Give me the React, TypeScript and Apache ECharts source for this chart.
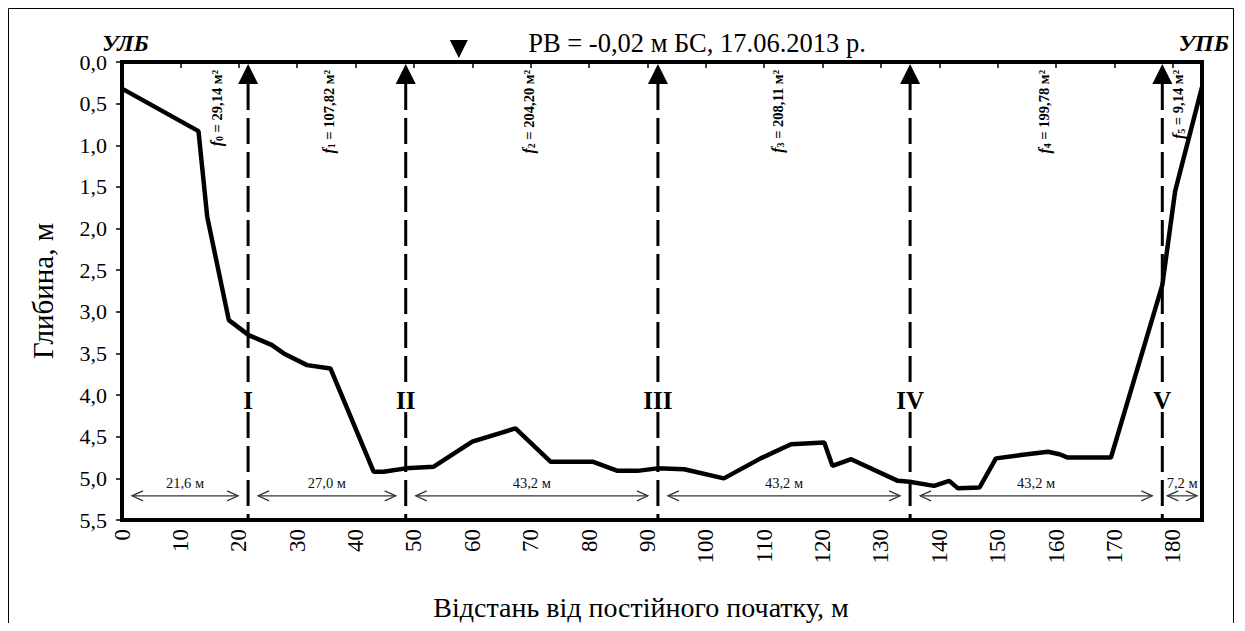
import React, { useEffect, useRef } from 'react';
import * as echarts from 'echarts';

// Cross-section profile: distance from the permanent origin (m) and depth (m)
const profileX = [0, 13.1, 14.6, 18.3, 21.7, 23.7, 25.7, 27.7, 31.7, 35.7, 43.1, 44.8, 48.6, 53.4, 60.0, 67.4, 73.4, 80.6, 84.9, 88.3, 91.7, 96.3, 103.1, 109.4, 114.6, 120.3, 121.7, 124.9, 132.9, 134.9, 139.1, 141.7, 143.2, 146.9, 149.7, 154.0, 158.6, 160.6, 162.0, 169.4, 178.2, 180.4, 185];
const profileDepth = [0.32, 0.83, 1.86, 3.10, 3.28, 3.34, 3.40, 3.50, 3.64, 3.68, 4.92, 4.92, 4.88, 4.86, 4.56, 4.40, 4.80, 4.80, 4.91, 4.91, 4.88, 4.89, 5.00, 4.76, 4.59, 4.57, 4.85, 4.77, 5.03, 5.04, 5.09, 5.03, 5.12, 5.11, 4.76, 4.72, 4.68, 4.71, 4.75, 4.75, 2.68, 1.55, 0.30];

// Velocity verticals
const sectionX = [21.6, 48.6, 91.8, 135.0, 178.2];
const sectionNames = ['I', 'II', 'III', 'IV', 'V'];

// Distances between verticals
const spanStart = [0, 21.6, 48.6, 91.8, 135.0, 178.2];
const spanEnd = [21.6, 48.6, 91.8, 135.0, 178.2, 185];
const spanLabels = ['21,6 м', '27,0 м', '43,2 м', '43,2 м', '43,2 м', '7,2 м'];

// Partial areas of the cross-section
const areaX = [16.2, 35.4, 69.7, 112.3, 158.0, 180.9];
const areaIndex = ['0', '1', '2', '3', '4', '5'];
const areaValues = ['29,14', '107,82', '204,20', '208,11', '199,78', '9,14'];

const xTicks = [0, 10, 20, 30, 40, 50, 60, 70, 80, 90, 100, 110, 120, 130, 140, 150, 160, 170, 180];
const waterMarkX = 57.7;
const numeralDepth = 4.06;
const dimDepth = 5.21;

const titleText = 'РВ = -0,02 м БС, 17.06.2013 р.';
const leftBank = 'УЛБ';
const rightBank = 'УПБ';
const xName = 'Відстань від постійного початку, м';
const yName = 'Глибина, м';

const SERIF = 'Liberation Serif';

function buildOption(): any {
  const profile = profileX.map((x, i) => [x, profileDepth[i]]);

  return {
    animation: false,
    backgroundColor: '#fff',
    grid: {
      left: 114,
      top: 54,
      width: 1080,
      height: 458,
      show: true,
      borderColor: '#000',
      borderWidth: 4,
      backgroundColor: 'transparent',
    },
    xAxis: {
      type: 'value',
      min: 0,
      max: 185,
      interval: 10,
      axisLine: { show: false },
      splitLine: { show: false },
      axisTick: {
        show: true,
        inside: false,
        length: 6,
        lineStyle: { color: '#000', width: 1.5 },
        customValues: xTicks,
      },
      axisLabel: {
        rotate: 90,
        margin: 9,
        color: '#000',
        fontFamily: SERIF,
        fontSize: 23,
        customValues: xTicks,
      },
    },
    yAxis: {
      type: 'value',
      inverse: true,
      min: 0,
      max: 5.5,
      interval: 0.5,
      axisLine: { show: false },
      splitLine: { show: false },
      axisTick: { show: true, inside: false, length: 6, lineStyle: { color: '#000', width: 1.5 } },
      axisLabel: {
        margin: 15,
        color: '#000',
        fontFamily: SERIF,
        fontSize: 22,
        formatter: (v: number) => v.toFixed(1).replace('.', ','),
      },
    },
    graphic: [
      {
        type: 'rect',
        silent: true,
        shape: { x: 0.5, y: 0.5, width: 1225, height: 700 },
        style: { fill: 'none', stroke: '#000', lineWidth: 1 },
      },
      {
        type: 'text',
        x: 689,
        y: 35,
        style: { text: titleText, fill: '#000', fontSize: 26.5, fontFamily: SERIF, align: 'center', verticalAlign: 'middle' },
      },
      {
        type: 'text',
        x: 94,
        y: 35,
        style: { text: leftBank, fill: '#000', fontStyle: 'italic', fontWeight: 'bold', fontSize: 24, fontFamily: SERIF, align: 'left', verticalAlign: 'middle' },
      },
      {
        type: 'text',
        x: 1221,
        y: 35,
        style: { text: rightBank, fill: '#000', fontStyle: 'italic', fontWeight: 'bold', fontSize: 24, fontFamily: SERIF, align: 'right', verticalAlign: 'middle' },
      },
      {
        type: 'text',
        x: 633,
        y: 599,
        style: { text: xName, fill: '#000', fontSize: 28, fontFamily: SERIF, align: 'center', verticalAlign: 'middle' },
      },
      {
        type: 'text',
        x: 35,
        y: 283,
        rotation: Math.PI / 2,
        style: { text: yName, fill: '#000', fontSize: 29, fontFamily: SERIF, align: 'center', verticalAlign: 'middle' },
      },
    ],
    series: [
      // velocity verticals with arrows and numerals
      {
        type: 'custom',
        z: 3,
        data: sectionX.map((x, i) => [x, i]),
        renderItem: (params: any, api: any) => {
          const x = api.value(0);
          const idx = api.value(1);
          const top = api.coord([x, 0]);
          const bottom = api.coord([x, 5.5]);
          const mid = api.coord([x, numeralDepth]);
          const px = top[0];
          const dash = { stroke: '#000', lineWidth: 3, lineDash: [26, 8], fill: 'none' };
          return {
            type: 'group',
            children: [
              {
                type: 'polygon',
                shape: { points: [[px, top[1] + 2], [px - 10, top[1] + 22], [px + 10, top[1] + 22]] },
                style: { fill: '#000' },
              },
              { type: 'line', shape: { x1: px, y1: top[1] + 22, x2: px, y2: mid[1] - 11 }, style: dash },
              { type: 'line', shape: { x1: px, y1: mid[1] + 12, x2: px, y2: bottom[1] }, style: dash },
              {
                type: 'text',
                x: px,
                y: mid[1],
                style: {
                  text: sectionNames[idx],
                  fill: '#000',
                  fontWeight: 'bold',
                  fontSize: 25,
                  fontFamily: SERIF,
                  align: 'center',
                  verticalAlign: 'middle',
                },
              },
            ],
          };
        },
      },
      // partial area labels
      {
        type: 'custom',
        z: 3,
        data: areaX.map((x, i) => [x, i]),
        renderItem: (params: any, api: any) => {
          const x = api.value(0);
          const idx = api.value(1);
          const top = api.coord([x, 0]);
          return {
            type: 'text',
            x: top[0],
            y: top[1] + 8,
            rotation: Math.PI / 2,
            style: {
              text: `{f|f}{s|${areaIndex[idx]}}{t| = ${areaValues[idx]} м²}`,
              fill: '#000',
              align: 'right',
              verticalAlign: 'middle',
              rich: {
                f: { fontFamily: SERIF, fontSize: 16, fontStyle: 'italic', fontWeight: 'bold', fill: '#000' },
                s: { fontFamily: SERIF, fontSize: 10, fontWeight: 'bold', verticalAlign: 'bottom', fill: '#000' },
                t: { fontFamily: SERIF, fontSize: 14.5, fontWeight: 'bold', fill: '#000' },
              },
            },
          };
        },
      },
      // dimension arrows between verticals
      {
        type: 'custom',
        z: 3,
        data: spanStart.map((s, i) => [s, spanEnd[i], i]),
        renderItem: (params: any, api: any) => {
          const a = api.coord([api.value(0), dimDepth]);
          const b = api.coord([api.value(1), dimDepth]);
          const idx = api.value(2);
          const gap = b[0] - a[0] > 100 ? 10 : 5;
          const x1 = a[0] + gap;
          const x2 = b[0] - gap;
          const y = a[1];
          const st = { stroke: '#333', lineWidth: 1.2, fill: 'none' };
          return {
            type: 'group',
            children: [
              { type: 'line', shape: { x1, y1: y, x2, y2: y }, style: st },
              { type: 'polyline', shape: { points: [[x1 + 11, y - 5], [x1, y], [x1 + 11, y + 5]] }, style: st },
              { type: 'polyline', shape: { points: [[x2 - 11, y - 5], [x2, y], [x2 - 11, y + 5]] }, style: st },
              {
                type: 'text',
                x: (x1 + x2) / 2,
                y: y - 13,
                style: {
                  text: spanLabels[idx],
                  fill: '#111',
                  fontSize: 14.5,
                  fontFamily: SERIF,
                  align: 'center',
                  verticalAlign: 'middle',
                },
              },
            ],
          };
        },
      },
      // water level mark
      {
        type: 'custom',
        z: 3,
        data: [[waterMarkX, 0]],
        renderItem: (params: any, api: any) => {
          const p = api.coord([api.value(0), api.value(1)]);
          return {
            type: 'polygon',
            shape: { points: [[p[0] - 9, p[1] - 22], [p[0] + 9, p[1] - 22], [p[0], p[1] - 4]] },
            style: { fill: '#000' },
          };
        },
      },
      // bed profile
      {
        type: 'line',
        z: 4,
        data: profile,
        symbol: 'none',
        lineStyle: { color: '#000', width: 4.5 },
      },
    ],
  };
}

export default function App() {
  const ref = useRef<HTMLDivElement>(null);
  useEffect(() => {
    if (!ref.current) return;
    const chart = echarts.init(ref.current, null, { renderer: 'svg' });
    chart.setOption(buildOption());
    return () => chart.dispose();
  }, []);
  return <div ref={ref} style={{ width: 1229, height: 615 }} />;
}
